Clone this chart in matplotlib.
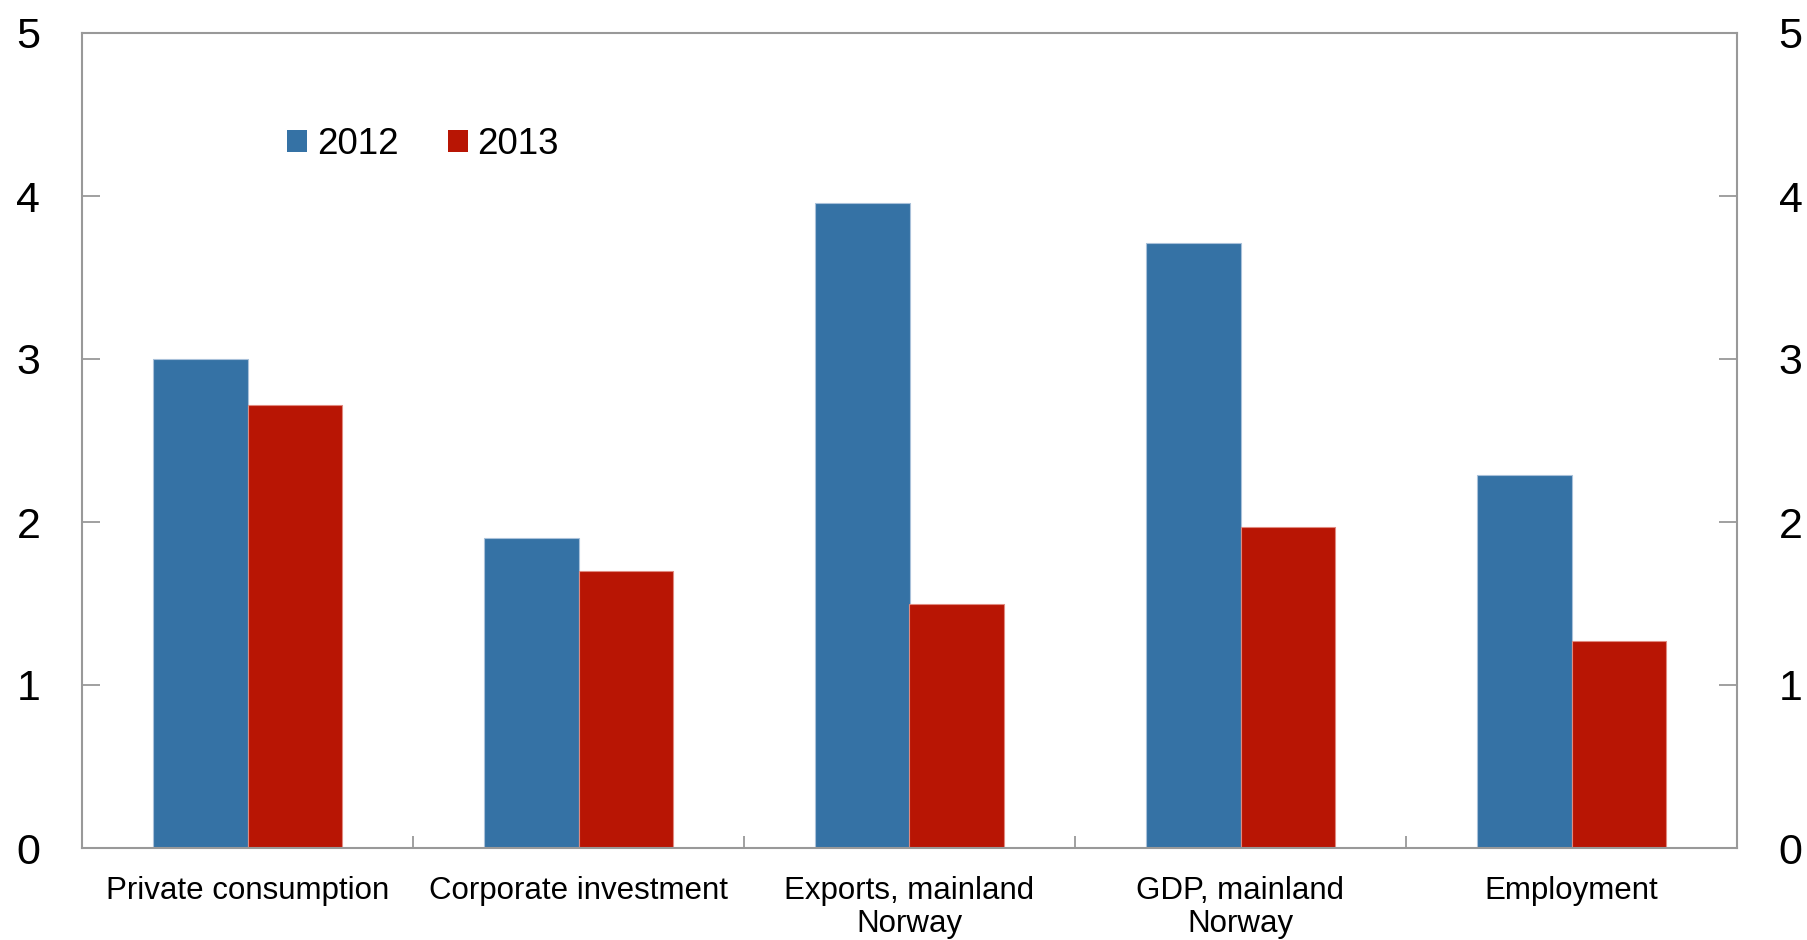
import matplotlib.pyplot as plt
import numpy as np
from matplotlib.patches import Patch

plt.rcParams['font.family'] = ['Liberation Sans', 'DejaVu Sans']

categories = ['Private consumption', 'Corporate investment', 'Exports, mainland\nNorway',
              'GDP, mainland\nNorway', 'Employment']
growth_2012 = [3.00, 1.90, 3.96, 3.71, 2.29]
growth_2013 = [2.72, 1.70, 1.50, 1.97, 1.27]
years = ['2012', '2013']
colors = ['#3572A5', '#B81504']
y_ticks = [0, 1, 2, 3, 4, 5]

fig = plt.figure(figsize=(18.08, 9.4), dpi=100)
ax = fig.add_axes([82 / 1808, 1 - 848 / 940, (1737 - 82) / 1808, (848 - 33) / 940])

x = np.arange(len(categories))
width = 0.286
ax.bar(x - width / 2, growth_2012, width, color=colors[0], edgecolor='#a9c1da', linewidth=0.8)
ax.bar(x + width / 2, growth_2013, width, color=colors[1], edgecolor='#e08a80', linewidth=0.8)

ax.set_xlim(-0.5, len(categories) - 0.5)
ax.set_ylim(0, 5)

spine_color = '#999999'
for s in ax.spines.values():
    s.set_color(spine_color)
    s.set_linewidth(1.5)

ax.set_yticks(y_ticks)
ax.tick_params(axis='y', direction='in', length=13, width=1.3, color=spine_color,
               labelsize=31, pad=30, left=True, right=True, labelleft=True, labelright=True)

ax.set_xticks(x)
ax.set_xticklabels(categories, fontsize=22.5, linespacing=1.15)
ax.tick_params(axis='x', which='major', length=0, pad=20)
ax.set_xticks(np.arange(0.5, len(categories) - 0.5, 1), minor=True)
ax.tick_params(axis='x', which='minor', direction='in', length=9, width=1.3, color=spine_color)

handles = [Patch(facecolor=c, edgecolor='none') for c in colors]
ax.legend(handles, years, loc='center left', bbox_to_anchor=(0.104, 0.863), ncol=2,
          frameon=False, fontsize=26.5, handlelength=0.55, handleheight=0.55,
          handletextpad=0.25, columnspacing=1.35)

fig.savefig('out.png', dpi=100)
